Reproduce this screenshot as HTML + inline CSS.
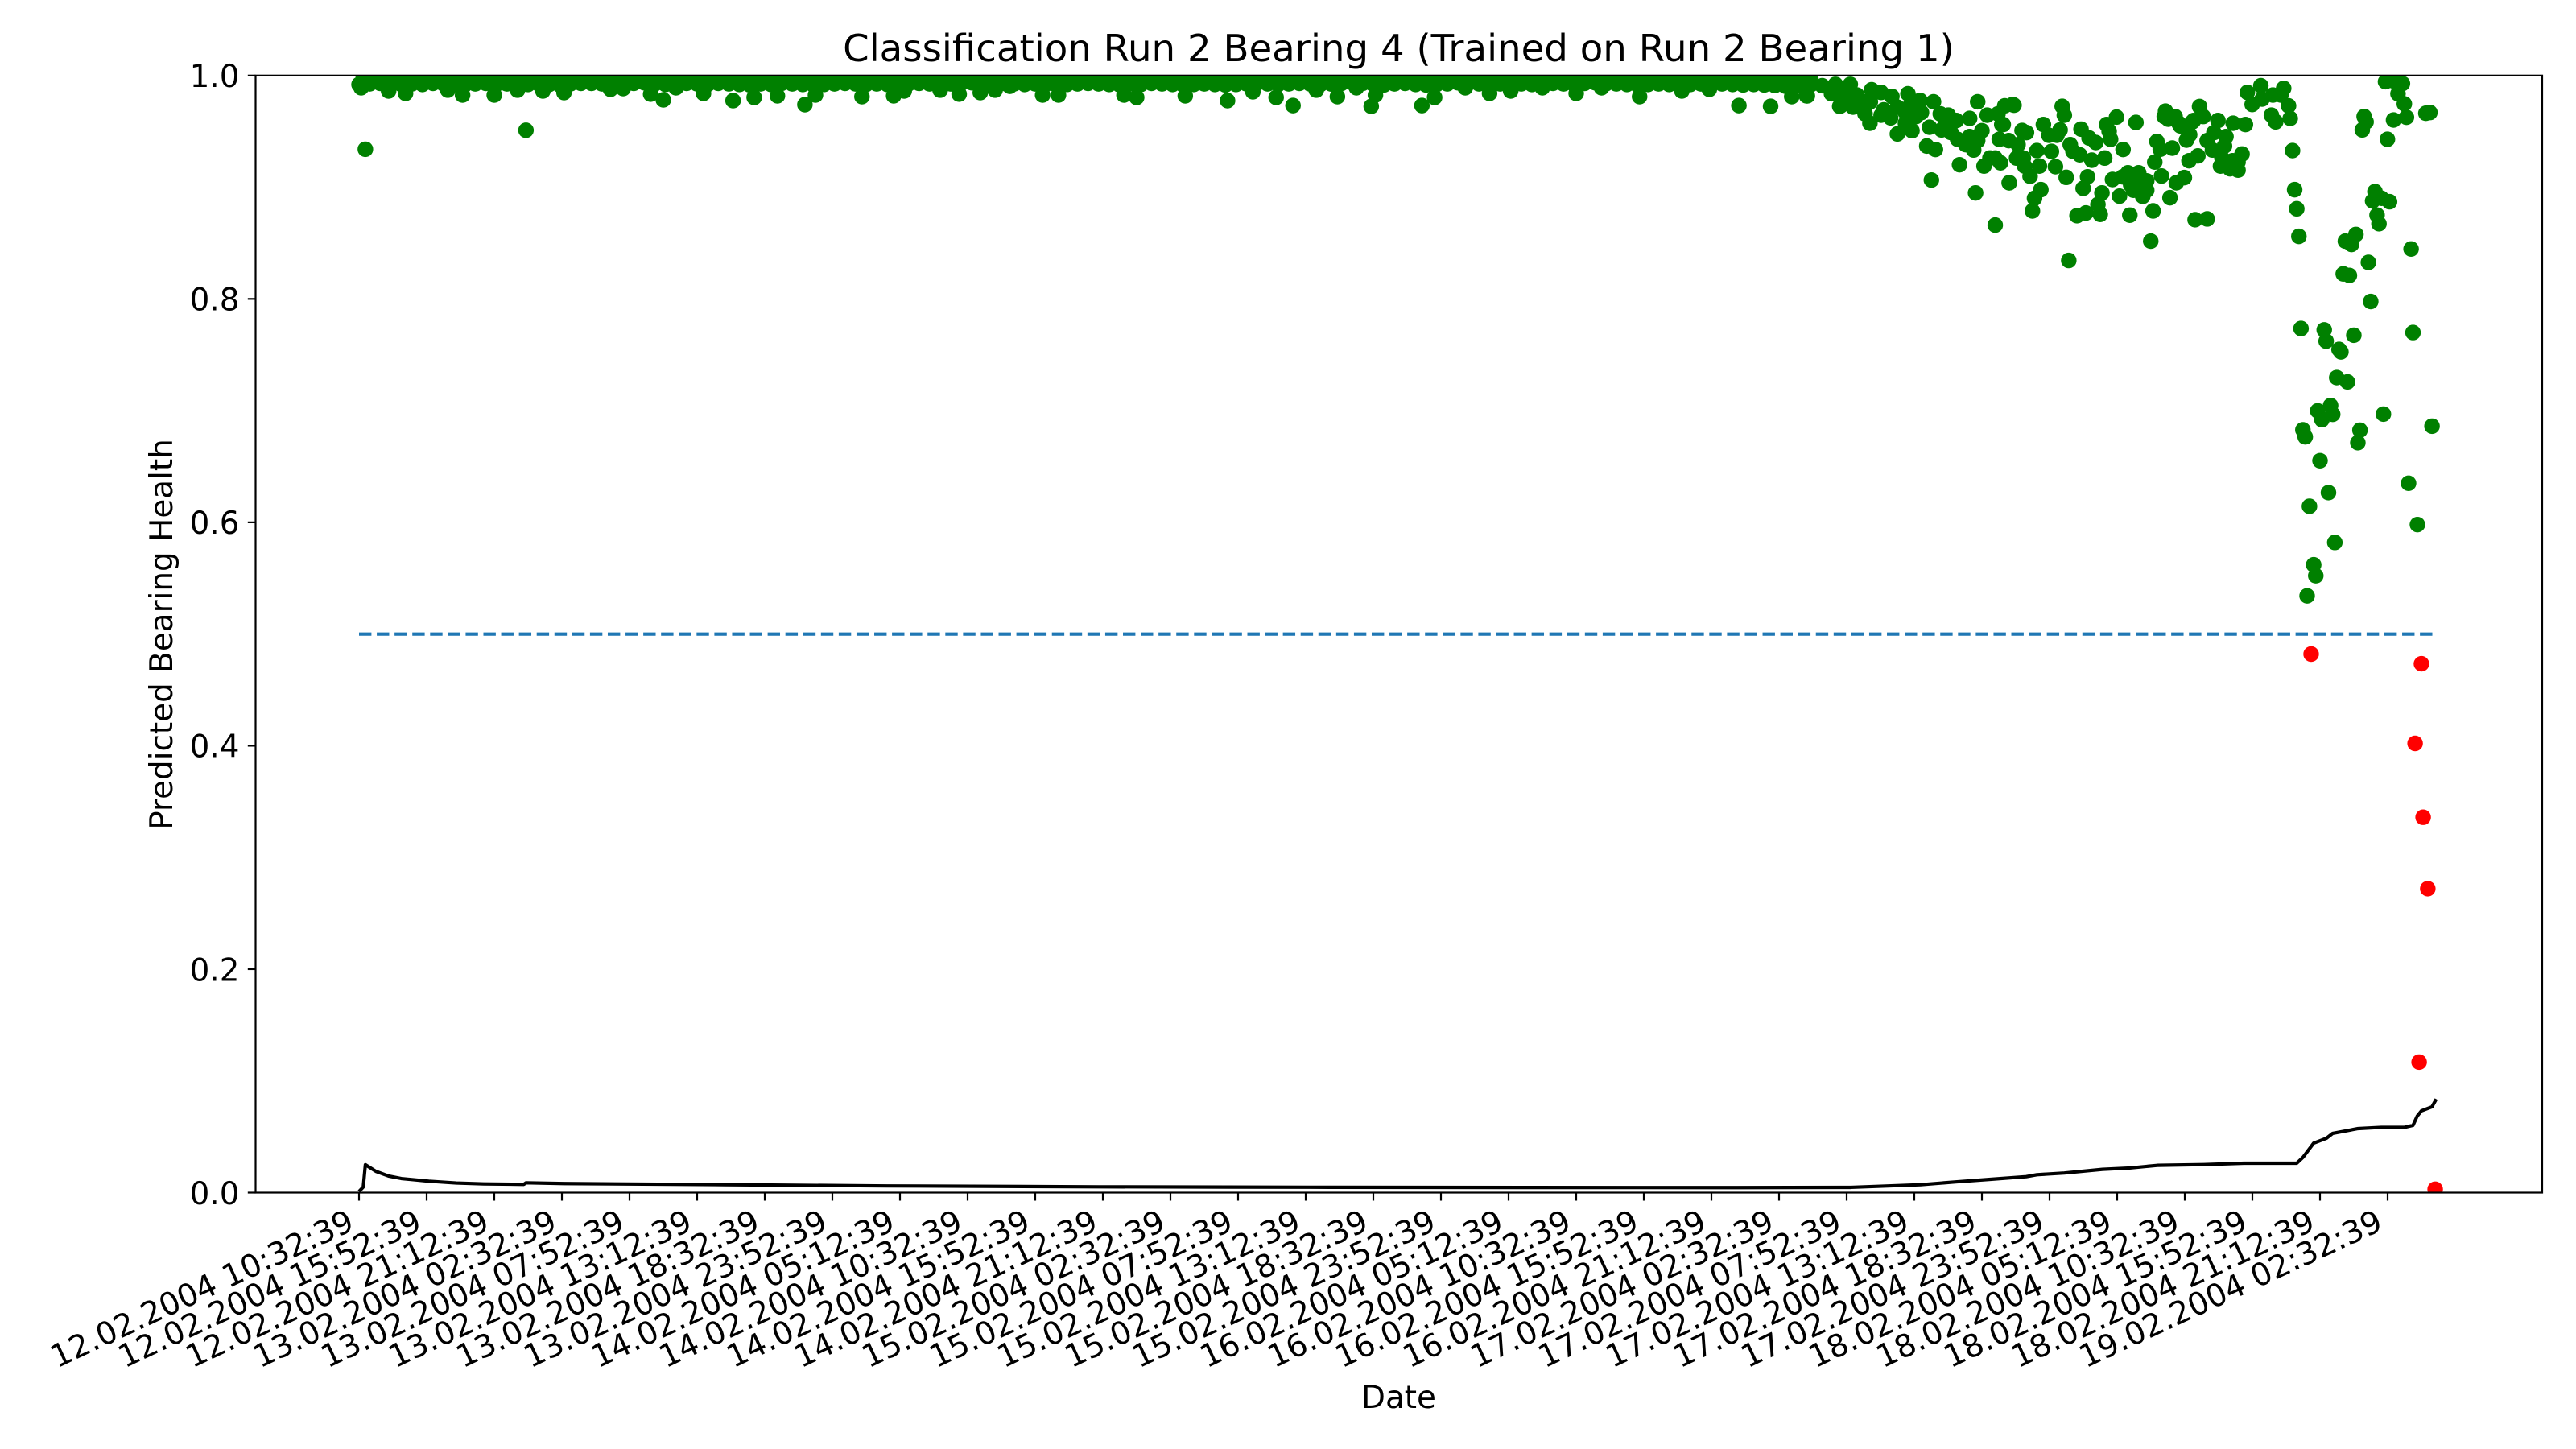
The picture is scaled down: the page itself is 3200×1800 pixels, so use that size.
<!DOCTYPE html>
<html lang="en">
<head>
<meta charset="utf-8">
<title>Classification Run 2 Bearing 4</title>
<style>
html,body{margin:0;padding:0;background:#fff;width:3200px;height:1800px;overflow:hidden}
svg{display:block}
text{font-family:"DejaVu Sans","Liberation Sans",sans-serif;fill:#000}
</style>
</head>
<body>
<svg id="chart" xmlns="http://www.w3.org/2000/svg" width="3200" height="1800" viewBox="0 0 3200 1800">
  <defs><clipPath id="plot-clip"><rect x="317.5" y="93.8" width="2840.5" height="1387.7"/></clipPath></defs>
  <rect x="0" y="0" width="3200" height="1800" fill="#fff"/>
  <g id="points" clip-path="url(#plot-clip)"></g>
  <g id="lines" clip-path="url(#plot-clip)"></g>
  <g id="axes"></g>
  <text x="1737.5" y="76" font-size="46.67" text-anchor="middle">Classification Run 2 Bearing 4 (Trained on Run 2 Bearing 1)</text>
  <text x="1737.5" y="1749" font-size="38.9" text-anchor="middle">Date</text>
  <text transform="translate(214 788) rotate(-90)" font-size="38.9" text-anchor="middle">Predicted Bearing Health</text>
</svg>
<script>
const xTickSamples = [0,32,64,96,128,160,192,224,256,288,320,352,384,416,448,480,512,544,576,608,640,672,704,736,768,800,832,864,896,928,960];
const xTickLabels = ["12.02.2004 10:32:39","12.02.2004 15:52:39","12.02.2004 21:12:39","13.02.2004 02:32:39","13.02.2004 07:52:39","13.02.2004 13:12:39","13.02.2004 18:32:39","13.02.2004 23:52:39","14.02.2004 05:12:39","14.02.2004 10:32:39","14.02.2004 15:52:39","14.02.2004 21:12:39","15.02.2004 02:32:39","15.02.2004 07:52:39","15.02.2004 13:12:39","15.02.2004 18:32:39","15.02.2004 23:52:39","16.02.2004 05:12:39","16.02.2004 10:32:39","16.02.2004 15:52:39","16.02.2004 21:12:39","17.02.2004 02:32:39","17.02.2004 07:52:39","17.02.2004 13:12:39","17.02.2004 18:32:39","17.02.2004 23:52:39","18.02.2004 05:12:39","18.02.2004 10:32:39","18.02.2004 15:52:39","18.02.2004 21:12:39","19.02.2004 02:32:39"];
const yTickValues = [0,0.2,0.4,0.6,0.8,1];
const yTickLabels = ["0.0","0.2","0.4","0.6","0.8","1.0"];
const threshold = 0.5;
const thresholdSamples = [0,982];

const topSamples = [2,7,12,17,22,27,32,37,42,47,52,57,62,67,72,77,82,87,92,97,102,107,112,117,122,127,132,137,142,147,152,157,162,167,172,177,182,187,192,197,202,207,212,217,222,227,232,237,242,247,252,257,262,267,272,277,282,287,292,297,302,307,312,317,322,327,332,337,342,347,352,357,362,367,372,377,382,387,392,397,402,407,412,417,422,427,432,437,442,447,452,457,462,467,472,477,482,487,492,497,502,507,512,517,522,527,532,537,542,547,552,557,562,567,572,577,582,587,592,597,602,607,612,617,622,627,632,637,642,647,652,657,662,667,672,677,682,687];
const topHealth = [0.998,0.999,0.998,0.9985,0.999,0.998,0.9985,0.999,0.998,0.9985,0.998,0.999,0.9985,0.998,0.999,0.9985,0.998,0.999,0.9985,0.998,0.9985,0.999,0.998,0.9985,0.999,0.998,0.9985,0.999,0.998,0.9985,0.999,0.998,0.9985,0.999,0.998,0.9985,0.999,0.998,0.9985,0.998,0.999,0.9985,0.998,0.999,0.9985,0.998,0.9985,0.999,0.998,0.9985,0.999,0.998,0.9985,0.999,0.998,0.9985,0.999,0.998,0.9985,0.999,0.998,0.9985,0.998,0.999,0.9985,0.998,0.999,0.9985,0.998,0.9985,0.999,0.998,0.9985,0.999,0.998,0.9985,0.999,0.998,0.9985,0.999,0.998,0.9985,0.998,0.999,0.9985,0.998,0.999,0.9985,0.998,0.9985,0.999,0.998,0.9985,0.999,0.998,0.9985,0.999,0.998,0.9985,0.999,0.998,0.9985,0.998,0.999,0.9985,0.998,0.999,0.9985,0.998,0.9985,0.999,0.998,0.9985,0.999,0.998,0.9985,0.999,0.998,0.9985,0.999,0.998,0.9985,0.998,0.999,0.9985,0.998,0.999,0.9985,0.998,0.9985,0.999,0.998,0.9985,0.999,0.998,0.9985,0.999,0.998];
const bandSamples = [0,5,10,15,20,25,30,35,40,45,50,55,60,65,70,75,80,85,90,95,100,105,110,115,120,125,130,135,140,145,150,155,160,165,170,175,180,185,190,195,200,205,210,215,220,225,230,235,240,245,250,255,260,265,270,275,280,285,290,295,300,305,310,315,320,325,330,335,340,345,350,355,360,365,370,375,380,385,390,395,400,405,410,415,420,425,430,435,440,445,450,455,460,465,470,475,480,485,490,495,500,505,510,515,520,525,530,535,540,545,550,555,560,565,570,575,580,585,590,595,600,605,610,615,620,625,630,635,640,645,650,655,660,665,670,675,680,685];
const bandHealth = [0.992,0.9925,0.993,0.9915,0.992,0.9925,0.992,0.993,0.9925,0.992,0.9915,0.9925,0.993,0.992,0.9925,0.993,0.992,0.9925,0.992,0.9915,0.9925,0.993,0.993,0.9925,0.992,0.9925,0.993,0.9935,0.9925,0.992,0.9925,0.993,0.9925,0.992,0.993,0.9925,0.992,0.9915,0.9925,0.992,0.993,0.9925,0.992,0.9915,0.992,0.9925,0.993,0.9925,0.992,0.9925,0.992,0.9915,0.9925,0.993,0.9925,0.992,0.9925,0.993,0.9935,0.993,0.9925,0.993,0.9925,0.992,0.9925,0.992,0.9915,0.992,0.9925,0.993,0.9925,0.992,0.9915,0.9925,0.992,0.993,0.9925,0.992,0.9915,0.992,0.9925,0.992,0.9915,0.992,0.9925,0.993,0.9925,0.992,0.9925,0.993,0.9925,0.992,0.9925,0.993,0.9935,0.993,0.992,0.9915,0.9925,0.993,0.992,0.9915,0.992,0.9925,0.9935,0.993,0.9925,0.992,0.9925,0.993,0.9925,0.992,0.9935,0.993,0.9925,0.992,0.993,0.9935,0.9925,0.9925,0.992,0.9915,0.992,0.9925,0.992,0.9915,0.992,0.9925,0.992,0.9925,0.992,0.9915,0.992,0.9915,0.991,0.9905,0.9905,0.99];
const dipSamples = [3,79,1,14,22,42,49,64,75,87,97,119,125,138,144,150,163,177,187,198,211,216,238,253,258,275,284,294,301,308,323.5,331,362,368,391,411,423,434,442,453,463,472,481,479,503,509,523.5,535,545,560,576,588,606,626,639,653,668,678,685,700.7];
const dipHealth = [0.934,0.951,0.989,0.9861,0.984,0.9869,0.9825,0.9825,0.9869,0.9861,0.9847,0.9876,0.9883,0.9833,0.9782,0.989,0.984,0.9775,0.9804,0.9818,0.9739,0.9825,0.9811,0.9818,0.9861,0.9869,0.9833,0.9847,0.9869,0.9904,0.9825,0.9825,0.9825,0.9804,0.9818,0.9775,0.9854,0.9804,0.9731,0.9869,0.9811,0.989,0.9825,0.9724,0.9731,0.9804,0.989,0.984,0.9861,0.989,0.984,0.989,0.9811,0.9861,0.9876,0.9731,0.9724,0.9811,0.9818,0.9724];
const lateSamples = [685.4,687.3,692.4,696.8,698.7,701.2,705.7,707,703.8,712.7,715,715.8,720.3,715.2,721.6,725.4,724.8,728,733,731.8,734.9,738.7,745.1,736.8,743.2,741.9,746,748.3,752.1,748.9,755.9,762.2,756.5,760.3,764.1,768,766,766,770.5,775.6,778.8,782.6,778.1,776.2,780.7,771.8,776.8,769,757.4,744.1,765,781,774.3,708.9,712.7,728,734.3,739.4,731.8,720.3,750.8,753.4,762.2,710.2,701.3,783.2,806,807,797.1,799.7,805,803.5,777.4,787,789.1,785.1,814.9,818.7,821.9,827,831.7,828.2,828.9,840.9,809.8,811.1,814.3,820,826.1,834.8,794,800.9,784.4,788.2,795.2,802.8,790.8,807.9,780.9,795.9,792.9,791.9,818,815.9,824.8,822.9,824,817.2,813,829.8,833.1,834.6,837.1,842.2,839.7,844.1,846,846,838,849,853,860,863.8,857,850.8,852.4,858.1,849.8,854.9,854.3,859.4,856.2,861.9,868.2,871,872.7,866.3,864.8,874.6,870.2,866,868.9,874.6,847.9,809.1,774.3,838.4,842.2,787.6,861.2,867.6,879.7,877.8,883.5,882.8,877.1,886.9,892.7,891.1,889.2,880.9,885.4,889.2,886.6,881.6,893.6,900,895.9,910.8,909.5,905.7,900.6,913.1,905,907,913.9,915,916,917,918,948.9,949.8,948,959.9,962.8,968.9,967.9,964.9,967,959,963.5,961.6,978.1,980,954,952.9,957.1,960.9,955,955.9,940,942.9,945,971.1,950.9,939,941.9,952,919,930,930.9,937,937.9,944,972,935.9,941,933,926.9,934,928.9,958,919.9,921,946.9,945.9,981,928,969.9,932,923,974.1,935,925,926,921.9];
const lateHealth = [0.9818,0.9921,0.9909,0.9837,0.9921,0.9729,0.9921,0.9717,0.9813,0.9657,0.9573,0.9873,0.9849,0.9765,0.9693,0.9813,0.9621,0.9477,0.9837,0.9669,0.9506,0.9777,0.9765,0.9633,0.9537,0.9369,0.9338,0.9657,0.9645,0.9513,0.9597,0.9616,0.9429,0.9381,0.9333,0.9506,0.9417,0.9765,0.9645,0.9657,0.9729,0.9741,0.9561,0.9429,0.9417,0.9261,0.9218,0.9189,0.9201,0.9064,0.8949,0.904,0.9261,0.9825,0.9765,0.9717,0.9741,0.9669,0.9573,0.9645,0.9573,0.9489,0.9453,0.9717,0.9825,0.9734,0.9724,0.9645,0.9561,0.9465,0.9513,0.9465,0.9561,0.9508,0.9489,0.9381,0.952,0.9441,0.94,0.9561,0.9628,0.9501,0.9429,0.958,0.9381,0.9321,0.929,0.9242,0.9261,0.9338,0.9328,0.9321,0.9261,0.9189,0.9189,0.9184,0.9098,0.9088,0.904,0.8978,0.8901,0.8788,0.9093,0.899,0.8949,0.8846,0.8757,0.8769,0.8745,0.9069,0.892,0.9093,0.9129,0.9129,0.8973,0.8918,0.8973,0.9057,0.875,0.8788,0.91,0.904,0.9086,0.8906,0.941,0.934,0.935,0.9225,0.9681,0.9633,0.9633,0.9609,0.9549,0.9597,0.9722,0.9633,0.947,0.9422,0.9417,0.928,0.9237,0.8709,0.8716,0.8517,0.8344,0.8661,0.9021,0.9021,0.9261,0.9573,0.9585,0.9597,0.9489,0.9453,0.9369,0.9333,0.9573,0.9561,0.9297,0.9225,0.9189,0.9165,0.9153,0.9237,0.9261,0.9849,0.9909,0.9741,0.9885,0.9825,0.9825,0.9789,0.9729,0.9645,0.9585,0.9616,0.9328,0.8978,0.8807,0.856,0.9633,0.9585,0.9513,0.9429,0.9602,0.9626,0.9746,0.9837,0.9928,0.9945,0.9945,0.9957,0.9662,0.9669,0.8961,0.8877,0.8901,0.887,0.875,0.8673,0.8517,0.8488,0.8577,0.8447,0.8327,0.8224,0.821,0.7977,0.7735,0.7723,0.7622,0.7548,0.7526,0.7675,0.7699,0.7296,0.7257,0.7046,0.6998,0.6967,0.6919,0.6969,0.6828,0.6765,0.6825,0.6713,0.6861,0.6552,0.635,0.6266,0.6144,0.598,0.582,0.562,0.5522,0.5342];
const faultSamples = [923.8,976,973,976.8,979,974.9,982.5];
const faultHealth = [0.4821,0.4734,0.4021,0.336,0.2721,0.1168,0.003];
const wearSamples = [0,1,2,3,8,14,20,33,46,59,78,79,97,173,250,350,450,550,650,706,739,755,772,789,794,807,825,838,851,873,892,917,920,925,931,934,946,957,968,972,974,976,981,983];
const wearValues = [0.001,0.003,0.005,0.025,0.019,0.0148,0.0126,0.0102,0.0086,0.0078,0.0074,0.0088,0.0081,0.0071,0.006,0.0052,0.0048,0.0046,0.0045,0.0047,0.0071,0.0095,0.0119,0.0143,0.016,0.0175,0.0208,0.022,0.0244,0.0251,0.0263,0.0263,0.0317,0.0443,0.0486,0.053,0.0573,0.0584,0.0584,0.0602,0.0685,0.0732,0.0768,0.0837];

const SVG_NS = 'http://www.w3.org/2000/svg';
function xScale(sample) { return 446 + sample * 2.625; }
function yScale(value) { return 1481.5 - value * 1387.7; }
function make(tag, parent, attrs) {
  const el = document.createElementNS(SVG_NS, tag);
  for (const k in attrs) el.setAttribute(k, attrs[k]);
  parent.appendChild(el);
  return el;
}
const pointsLayer = document.getElementById('points');
const linesLayer = document.getElementById('lines');
const axesLayer = document.getElementById('axes');

function drawPoints(samples, values, color, name) {
  samples.forEach(function (s, i) {
    const el = make('circle', pointsLayer, {cx: xScale(s), cy: yScale(values[i]), r: 9.7, fill: color});
    
    
  });
}
drawPoints(topSamples, topHealth, '#008000', 'healthy-point');
drawPoints(bandSamples, bandHealth, '#008000', 'healthy-point');
drawPoints(dipSamples, dipHealth, '#008000', 'healthy-point');
drawPoints(lateSamples, lateHealth, '#008000', 'healthy-point');
drawPoints(faultSamples, faultHealth, '#ff0000', 'fault-point');

const thresholdLine = make('line', linesLayer, {x1: xScale(thresholdSamples[0]), x2: xScale(thresholdSamples[1]), y1: yScale(threshold), y2: yScale(threshold), stroke: '#1f77b4', 'stroke-width': 4.17, 'stroke-dasharray': '15.4 6.67'});



const wearLine = make('polyline', linesLayer, {points: wearSamples.map(function (s, i) { return xScale(s) + ',' + yScale(wearValues[i]); }).join(' '), fill: 'none', stroke: '#000', 'stroke-width': 4.17, 'stroke-linejoin': 'round'});



xTickSamples.forEach(function (s, i) {
  const x = xScale(s);
  const tick = make('line', axesLayer, {x1: x, x2: x, y1: 1481.5, y2: 1491.5, stroke: '#000', 'stroke-width': 2.2});
  
  
  const label = make('text', axesLayer, {'font-size': 38.9, 'text-anchor': 'end', transform: 'translate(' + (x - 3.9) + ' 1526.6) rotate(-25)'});
  label.textContent = xTickLabels[i];
  
  
});
yTickValues.forEach(function (v, i) {
  const y = yScale(v);
  const tick = make('line', axesLayer, {x1: 307.8, x2: 317.5, y1: y, y2: y, stroke: '#000', 'stroke-width': 2.2});
  
  
  const label = make('text', axesLayer, {x: 297.5, y: y + 14.3, 'font-size': 38.9, 'text-anchor': 'end'});
  label.textContent = yTickLabels[i];
  
  
});
const frame = make('rect', axesLayer, {x: 317.5, y: 93.8, width: 2840.5, height: 1387.7, fill: 'none', stroke: '#000', 'stroke-width': 2.2});


</script>
</body>
</html>
